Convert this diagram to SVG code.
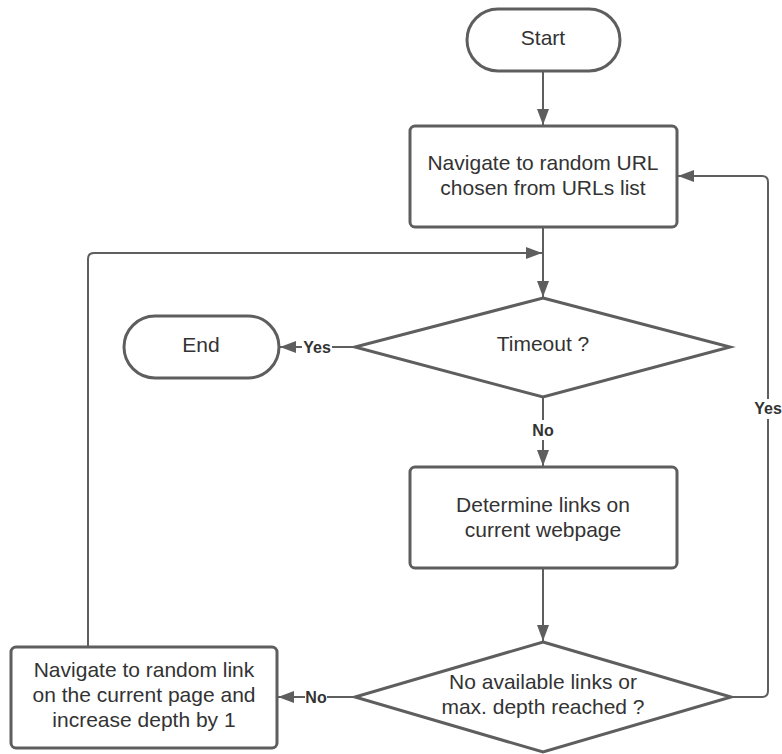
<svg xmlns="http://www.w3.org/2000/svg" width="782" height="754" viewBox="0 0 782 754">
<style>
.shape{fill:#ffffff;stroke:#5e5e5e;stroke-width:3}
.conn{fill:none;stroke:#5e5e5e;stroke-width:2}
.t{font-family:"Liberation Sans",Arial,sans-serif;font-size:21px;fill:#333333;text-anchor:middle}
.lbl{font-family:"Liberation Sans",Arial,sans-serif;font-size:16px;font-weight:bold;fill:#333333;text-anchor:middle}
.lblbg{fill:#ffffff}
</style>
<defs>
<marker id="arr" viewBox="0 0 16 12" refX="16" refY="6" markerWidth="16" markerHeight="12" markerUnits="userSpaceOnUse" orient="auto">
<path d="M0,0 L16,6 L0,12 z" fill="#5e5e5e"/>
</marker>
</defs>
<rect width="782" height="754" fill="#ffffff"/>
<g id="connectors">
<path class="conn" d="M543,71 L543,125" marker-end="url(#arr)"/>
<path class="conn" d="M543,227 L543,297" marker-end="url(#arr)"/>
<path class="conn" d="M88,647 L88,259 Q88,253 94,253 L542,253" marker-end="url(#arr)"/>
<path class="conn" d="M355,347 L280,347" marker-end="url(#arr)"/>
<path class="conn" d="M543,397 L543,466" marker-end="url(#arr)"/>
<path class="conn" d="M543,568 L543,641" marker-end="url(#arr)"/>
<path class="conn" d="M355,697 L278,697" marker-end="url(#arr)"/>
<path class="conn" d="M731,697 L762,697 Q768,697 768,691 L768,182 Q768,176 762,176 L678,176" marker-end="url(#arr)"/>
<rect class="lblbg" x="302" y="337" width="30" height="20"/>
<text class="lbl" x="317" y="353">Yes</text>
<rect class="lblbg" x="532" y="420" width="22" height="20"/>
<text class="lbl" x="543" y="436">No</text>
<rect class="lblbg" x="753" y="399" width="30" height="20"/>
<text class="lbl" x="768" y="414">Yes</text>
<rect class="lblbg" x="305" y="687" width="22" height="20"/>
<text class="lbl" x="316" y="703">No</text>
</g>
<g id="start">
<rect class="shape" x="467" y="9" width="153" height="62" rx="31"/>
<text class="t" x="543" y="45">Start</text>
</g>
<g id="navigate-url">
<rect class="shape" x="410" y="126" width="267" height="101" rx="5"/>
<text class="t" x="543" y="170">Navigate to random URL</text>
<text class="t" x="543" y="195">chosen from URLs list</text>
</g>
<g id="timeout">
<polygon class="shape" points="543,298 730,347 543,397 355,347"/>
<text class="t" x="543" y="351">Timeout ?</text>
</g>
<g id="end">
<rect class="shape" x="124" y="316" width="155" height="62" rx="31"/>
<text class="t" x="201" y="352">End</text>
</g>
<g id="determine">
<rect class="shape" x="410" y="467" width="267" height="101" rx="5"/>
<text class="t" x="543" y="512">Determine links on</text>
<text class="t" x="543" y="537">current webpage</text>
</g>
<g id="no-links">
<polygon class="shape" points="543,642 731,697 543,752 355,697"/>
<text class="t" x="543" y="689">No available links or</text>
<text class="t" x="543" y="714">max. depth reached ?</text>
</g>
<g id="navigate-link">
<rect class="shape" x="11" y="647" width="266" height="101" rx="5"/>
<text class="t" x="144" y="677">Navigate to random link</text>
<text class="t" x="144" y="702">on the current page and</text>
<text class="t" x="144" y="727">increase depth by 1</text>
</g>
</svg>
